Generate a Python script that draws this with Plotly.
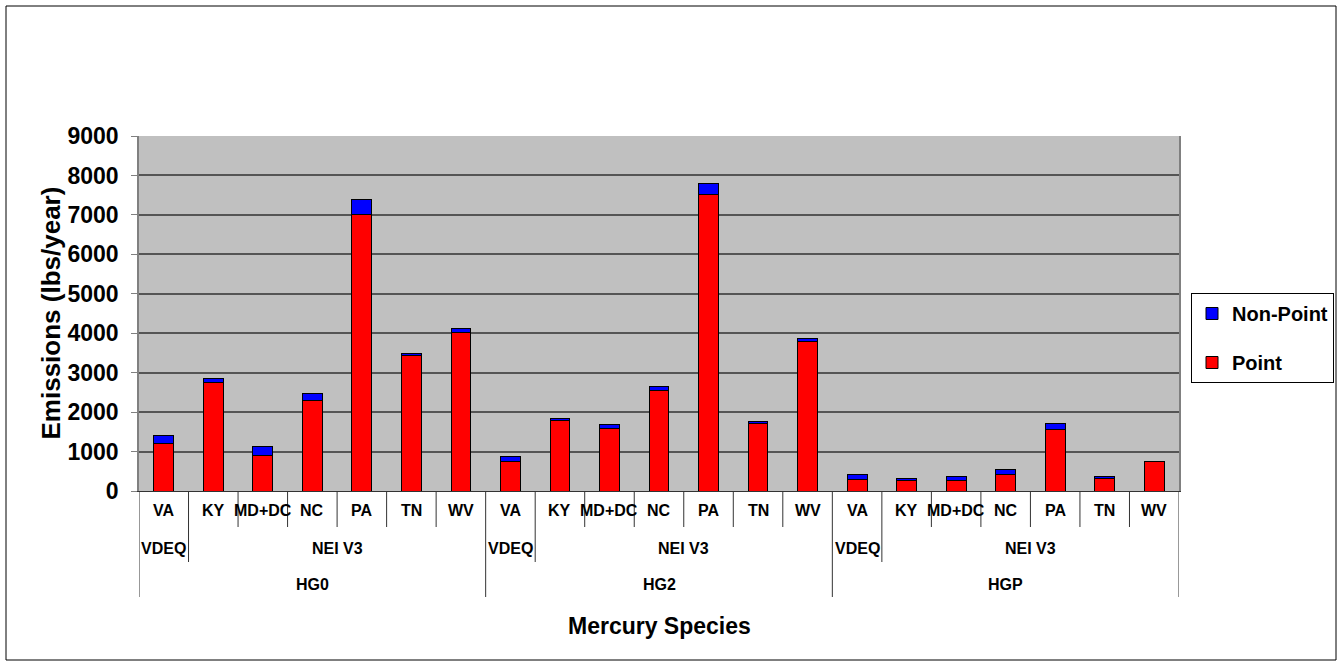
import plotly.graph_objects as go

# ---------------- data ----------------
species = ["HG0"] * 7 + ["HG2"] * 7 + ["HGP"] * 7
sources = (["VDEQ"] + ["NEI V3"] * 6) * 3
states = ["VA", "KY", "MD+DC", "NC", "PA", "TN", "WV"] * 3
point = [1200, 2760, 910, 2290, 7000, 3430, 4030,
         745, 1785, 1575, 2540, 7520, 1700, 3800,
         300, 270, 275, 430, 1570, 305, 745]
nonpoint = [195, 100, 210, 190, 400, 60, 100,
            135, 60, 100, 110, 280, 60, 65,
            115, 50, 95, 110, 150, 65, 10]
y_ticks = [0, 1000, 2000, 3000, 4000, 5000, 6000, 7000, 8000, 9000]

FONT = "Liberation Sans, Arial, sans-serif"

x = list(range(len(states)))

fig = go.Figure()
fig.add_trace(go.Bar(x=x, y=point, name="Point", width=0.4, legendgroup="p", legendrank=2,
                     marker=dict(color="#FF0000", line=dict(color="black", width=1))))
fig.add_trace(go.Bar(x=x, y=nonpoint, name="Non-Point", width=0.4, legendgroup="np", legendrank=1,
                     marker=dict(color="#0000FF", line=dict(color="black", width=1))))

# ---------------- multi-level x axis ----------------
row_bottom = [-36 / 355, -71 / 355, -106 / 355]
row_center = [-19 / 355, -57 / 355, -93 / 355]
shapes = []
annotations = []
lc = "#333333"


def runs(labels, parent=None):
    out = []
    start = 0
    for i in range(1, len(labels) + 1):
        if i == len(labels) or labels[i] != labels[start] or (
                parent is not None and parent[i] != parent[start]):
            out.append((start, i - 1, labels[start]))
            start = i
    return out


lab_font = dict(family=FONT, size=16, color="black", weight="bold")
for i, s in enumerate(states):
    annotations.append(dict(x=i, y=row_center[0], xref="x", yref="paper", text=s,
                            showarrow=False, yanchor="middle", font=lab_font))
for a, b, s in runs(sources, species):
    annotations.append(dict(x=(a + b) / 2, y=row_center[1], xref="x", yref="paper", text=s,
                            showarrow=False, yanchor="middle", font=lab_font))
for a, b, s in runs(species):
    annotations.append(dict(x=(a + b) / 2, y=row_center[2], xref="x", yref="paper", text=s,
                            showarrow=False, yanchor="middle", font=lab_font))

# divider lines
n = len(states)
for k in range(n + 1):
    xb = k - 0.5
    if k == 0 or k == n or species[k] != species[k - 1]:
        depth = 2
    elif sources[k] != sources[k - 1]:
        depth = 1
    else:
        depth = 0
    shapes.append(dict(type="line", xref="x", yref="paper", x0=xb, x1=xb,
                       y0=0, y1=row_bottom[depth], line=dict(color=lc, width=1)))

# outer chart border
shapes.append(dict(type="rect", xref="paper", yref="paper",
                   x0=(6 - 139) / 1040, x1=(1336 - 139) / 1040,
                   y0=(491 - 660) / 355, y1=(491 - 6) / 355,
                   line=dict(color="black", width=1), layer="below"))

# y-axis title
annotations.append(dict(x=(50 - 139) / 1040, y=0.5, xref="paper", yref="paper",
                        text="Emissions (lbs/year)", textangle=-90, showarrow=False,
                        xanchor="center", yanchor="middle",
                        font=dict(family=FONT, size=26, color="black", weight="bold")))
# x-axis title
annotations.append(dict(x=0.5, y=(491 - 626) / 355, xref="paper", yref="paper",
                        text="Mercury Species", showarrow=False,
                        xanchor="center", yanchor="middle",
                        font=dict(family=FONT, size=23, color="black", weight="bold")))

fig.update_layout(
    width=1344, height=667,
    margin=dict(l=139, r=165, t=136, b=176, autoexpand=False),
    paper_bgcolor="white", plot_bgcolor="#C0C0C0",
    barmode="stack", bargap=0.6,
    showlegend=True,
    legend=dict(x=(1191 - 139) / 1040, y=(491 - 293) / 355, xanchor="left", yanchor="top",
                traceorder="grouped", tracegroupgap=20,
                bordercolor="black", borderwidth=1,
                bgcolor="white", itemwidth=30,
                font=dict(family=FONT, size=20, color="black", weight="bold")),
    xaxis=dict(range=[-0.5, n - 0.5], showticklabels=False, showgrid=False,
               zeroline=False, showline=True, linecolor=lc, linewidth=1, ticks=""),
    yaxis=dict(range=[0, 9000], tickvals=y_ticks, showgrid=True, gridcolor="#555555",
               gridwidth=1.5, zeroline=False, showline=True, linecolor="#808080",
               linewidth=1.5, mirror=True, ticks="outside", ticklen=6, tickcolor="#808080",
               ticklabelstandoff=8,
               tickfont=dict(family=FONT, size=23, color="black", weight="bold")),
    shapes=shapes,
    annotations=annotations,
)

fig.write_html("out.html", config={"displayModeBar": False},
               post_script="document.body.style.margin='0';document.body.style.overflow='hidden';")
